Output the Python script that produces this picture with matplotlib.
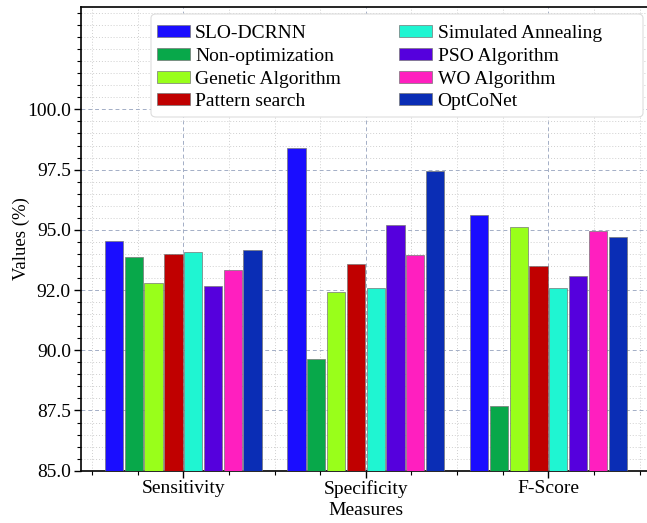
import matplotlib
matplotlib.use('Agg')
import matplotlib.pyplot as plt
import numpy as np
from matplotlib.patches import FancyBboxPatch
from matplotlib.ticker import MultipleLocator, FixedLocator, FixedFormatter

plt.rcParams.update({
    'font.family': 'Liberation Serif',
    'font.size': 14,
    'axes.linewidth': 1.2,
})

# Performance values (%) per measure
measures = ['Sensitivity', 'Specificity', 'F-Score']
methods = ['SLO-DCRNN', 'Non-optimization', 'Genetic Algorithm', 'Pattern search',
           'Simulated Annealing', 'PSO Algorithm', 'WO Algorithm', 'OptCoNet']

slo_dcrnn = [94.54, 98.38, 95.63]
non_opt = [93.88, 89.64, 87.68]
genetic = [92.78, 92.42, 95.10]
pattern = [93.99, 93.58, 93.49]
annealing = [94.08, 92.57, 92.57]
pso = [92.68, 95.22, 93.10]
wo = [93.32, 93.96, 94.97]
optconet = [94.18, 97.46, 94.72]

series = [slo_dcrnn, non_opt, genetic, pattern, annealing, pso, wo, optconet]
colors = ['#1a0dff', '#08a84a', '#99ff1a', '#c00000',
          '#1ff5d2', '#5500dd', '#ff1fbf', '#0a2db5']

ytick_vals = [85.0, 87.5, 90.0, 92.5, 95.0, 97.5, 100.0]
ytick_labels = ['85.0', '87.5', '90.0', '92.0', '95.0', '97.5', '100.0']

W, H = 647, 523
fig = plt.figure(figsize=(W / 100, H / 100), dpi=100)
ax = fig.add_axes([0.1247, 0.1, 0.8815, 0.8866])

x = np.arange(len(measures))
pitch = 0.1085
width = 0.1
for i, (vals, col, name) in enumerate(zip(series, colors, methods)):
    ax.bar(x + (i - 3.5) * pitch, vals, width, color=col, edgecolor='#777777',
           linewidth=0.5, label=name, zorder=3)

ax.set_xlim(-0.562, 2.562)
ax.set_ylim(85, 104.25)

ax.xaxis.set_major_locator(FixedLocator(x))
ax.set_xticklabels(measures)
ax.xaxis.set_minor_locator(MultipleLocator(0.25))
ax.yaxis.set_major_locator(FixedLocator(ytick_vals))
ax.yaxis.set_major_formatter(FixedFormatter(ytick_labels))
ax.yaxis.set_minor_locator(MultipleLocator(0.5))
ax.tick_params(axis='both', which='major', direction='out', length=5, width=1,
               labelsize=14, pad=2)
ax.tick_params(axis='both', which='minor', direction='out', length=3, width=0.8)

ax.grid(True, which='major', linestyle=(0, (4, 3)), color='#a3aec6',
        linewidth=0.7, zorder=0)
ax.grid(True, which='minor', linestyle=(0, (1, 2)), color='#cfcfcf',
        linewidth=0.7, zorder=0)
ax.set_axisbelow(True)

ax.set_xlabel('Measures', fontsize=14, labelpad=3)
ax.set_ylabel('Values (%)', fontsize=13.5, labelpad=-2)

# legend entries without their own frame; a wider box is drawn behind them
leg = ax.legend(ncol=2, loc='upper left',
                bbox_to_anchor=(151 / W, 1 - 19 / H),
                bbox_transform=fig.transFigure, borderaxespad=0,
                fontsize=14, handlelength=1.7, handleheight=0.57,
                handletextpad=0.27, columnspacing=3.0, labelspacing=0.3,
                borderpad=0.3, frameon=False)
leg.set_zorder(6)

box = FancyBboxPatch((151 / W, 1 - 117 / H), (643 - 151) / W, (117 - 14) / H,
                     boxstyle='round,pad=0,rounding_size=0.008',
                     transform=fig.transFigure, facecolor='white',
                     edgecolor='#dddddd', linewidth=0.8, zorder=5,
                     clip_on=False)
ax.add_patch(box)

fig.savefig('out.png', dpi=100)
